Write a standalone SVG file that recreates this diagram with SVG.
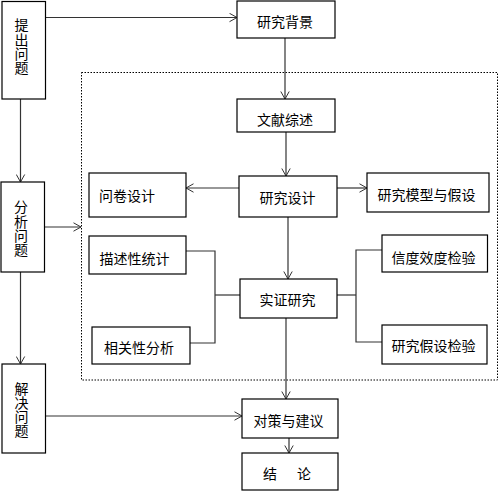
<svg xmlns="http://www.w3.org/2000/svg" width="499" height="491" viewBox="0 0 499 491">
<defs>
<marker id="arr" markerWidth="10" markerHeight="10" refX="8" refY="5" orient="auto" markerUnits="userSpaceOnUse">
<path d="M0.5,0.8 L8,5 L0.5,9.2" fill="none" stroke="#333" stroke-width="1"/>
</marker>
</defs>
<style>
.box{fill:#fff;stroke:#000;stroke-width:1.2}
.t{font-family:"Noto Sans CJK SC","Noto Sans",sans-serif;font-size:14px;fill:#000;text-anchor:middle}
.v{font-family:"Noto Sans CJK SC","Noto Sans",sans-serif;font-size:14px;fill:#000;writing-mode:vertical-rl;text-anchor:start}
.c{fill:none;stroke:#333;stroke-width:1.2}
.a{marker-end:url(#arr)}
.dot{fill:none;stroke:#000;stroke-width:1;stroke-dasharray:1.5,1.5}
</style>
<rect width="499" height="491" fill="#fff"/>
<rect class="dot" x="81.5" y="72.5" width="416" height="307.5"/>
<g id="connectors">
<line class="c a" x1="45.5" y1="17.5" x2="237" y2="17.5"/>
<line class="c a" x1="20.5" y1="99" x2="20.5" y2="182"/>
<line class="c a" x1="20.5" y1="272" x2="20.5" y2="364"/>
<line class="c a" x1="44.5" y1="227" x2="81" y2="227"/>
<line class="c a" x1="45.5" y1="416" x2="242" y2="416"/>
<line class="c a" x1="285" y1="38" x2="285" y2="99"/>
<line class="c a" x1="286" y1="132" x2="286" y2="176"/>
<line class="c a" x1="239" y1="188" x2="186" y2="188"/>
<line class="c a" x1="337" y1="188" x2="367" y2="188"/>
<line class="c a" x1="288" y1="217" x2="288" y2="279"/>
<polyline class="c" points="186,251 215,251 215,343 190,343"/>
<line class="c" x1="215" y1="295" x2="240" y2="295"/>
<line class="c" x1="337" y1="295" x2="356" y2="295"/>
<polyline class="c" points="382,250 356,250 356,342 382,342"/>
<line class="c a" x1="286" y1="318" x2="286" y2="399"/>
<line class="c a" x1="289" y1="438" x2="289" y2="453"/>
</g>
<g id="n-tichu">
<rect class="box" x="2" y="1.5" width="43.5" height="97.5"/>
<text class="v" x="21.5" y="18" style="letter-spacing:0.3px">提出问题</text>
</g>
<g id="n-fenxi">
<rect class="box" x="1" y="182" width="43.5" height="90"/>
<text class="v" x="21" y="200" style="letter-spacing:0.3px">分析问题</text>
</g>
<g id="n-jiejue">
<rect class="box" x="2" y="364" width="43.5" height="89"/>
<text class="v" x="21.5" y="382">解决问题</text>
</g>
<g id="n-beijing">
<rect class="box" x="237" y="1" width="98" height="37"/>
<text class="t" x="285" y="27">研究背景</text>
</g>
<g id="n-wenxian">
<rect class="box" x="237" y="99" width="98" height="33"/>
<text class="t" x="285" y="125">文献综述</text>
</g>
<g id="n-sheji">
<rect class="box" x="239" y="176" width="98" height="41"/>
<text class="t" x="287.5" y="203">研究设计</text>
</g>
<g id="n-wenjuan">
<rect class="box" x="89" y="173" width="97" height="44"/>
<text class="t" x="127" y="201">问卷设计</text>
</g>
<g id="n-moxing">
<rect class="box" x="367" y="173" width="122" height="39"/>
<text class="t" x="426.5" y="200">研究模型与假设</text>
</g>
<g id="n-miaoshu">
<rect class="box" x="89" y="236" width="97" height="38"/>
<text class="t" x="134.5" y="264">描述性统计</text>
</g>
<g id="n-xiangguan">
<rect class="box" x="92" y="327" width="98" height="37"/>
<text class="t" x="139" y="353">相关性分析</text>
</g>
<g id="n-shizheng">
<rect class="box" x="240" y="279" width="97" height="39"/>
<text class="t" x="287.5" y="305">实证研究</text>
</g>
<g id="n-xindu">
<rect class="box" x="382" y="235" width="105.5" height="37"/>
<text class="t" x="433.5" y="263">信度效度检验</text>
</g>
<g id="n-jiashe">
<rect class="box" x="382" y="325" width="105" height="39"/>
<text class="t" x="433.5" y="351">研究假设检验</text>
</g>
<g id="n-duice">
<rect class="box" x="242" y="399" width="96" height="39"/>
<text class="t" x="288.5" y="426">对策与建议</text>
</g>
<g id="n-jielun">
<rect class="box" x="242" y="453" width="96" height="37"/>
<text class="t" x="263" y="479" style="text-anchor:start;letter-spacing:3px">结　论</text>
</g>
</svg>
